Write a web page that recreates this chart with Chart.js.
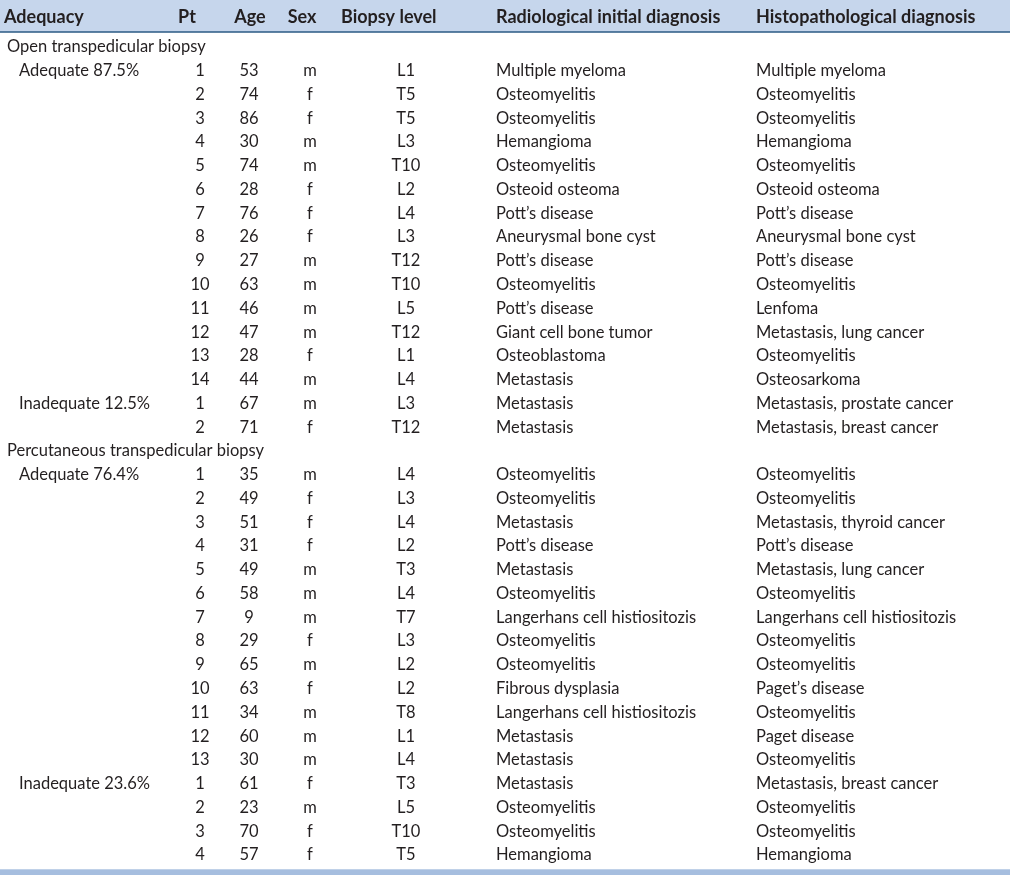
<!DOCTYPE html>
<html>
<head>
<meta charset="utf-8">
<title>Transpedicular biopsy table</title>
<script src="https://cdn.jsdelivr.net/npm/chart.js@4.4.0/dist/chart.umd.min.js"></script>
<style>
  html, body { margin: 0; padding: 0; background: #fff; }
  #wrap { width: 1010px; height: 875px; }
</style>
</head>
<body>
<div id="wrap"><canvas id="tableCanvas" width="1010" height="875"></canvas></div>
<script>
// --- data ---
const headers = ['Adequacy', 'Pt', 'Age', 'Sex', 'Biopsy level', 'Radiological initial diagnosis', 'Histopathological diagnosis'];
const groupNames = ['Open transpedicular biopsy', 'Percutaneous transpedicular biopsy'];
const subgroupNames = [['Adequate 87.5%', 'Inadequate 12.5%'], ['Adequate 76.4%', 'Inadequate 23.6%']];
const subgroupCounts = [[14, 2], [13, 4]];

const pt = [1, 2, 3, 4, 5, 6, 7, 8, 9, 10, 11, 12, 13, 14, 1, 2,
  1, 2, 3, 4, 5, 6, 7, 8, 9, 10, 11, 12, 13, 1, 2, 3, 4];
const age = [53, 74, 86, 30, 74, 28, 76, 26, 27, 63, 46, 47, 28, 44, 67, 71,
  35, 49, 51, 31, 49, 58, 9, 29, 65, 63, 34, 60, 30, 61, 23, 70, 57];
const sex = ['m', 'f', 'f', 'm', 'm', 'f', 'f', 'f', 'm', 'm', 'm', 'm', 'f', 'm', 'm', 'f',
  'm', 'f', 'f', 'f', 'm', 'm', 'm', 'f', 'm', 'f', 'm', 'm', 'm', 'f', 'm', 'f', 'f'];
const level = ['L1', 'T5', 'T5', 'L3', 'T10', 'L2', 'L4', 'L3', 'T12', 'T10', 'L5', 'T12', 'L1', 'L4', 'L3', 'T12',
  'L4', 'L3', 'L4', 'L2', 'T3', 'L4', 'T7', 'L3', 'L2', 'L2', 'T8', 'L1', 'L4', 'T3', 'L5', 'T10', 'T5'];
const radiological = ['Multiple myeloma', 'Osteomyelitis', 'Osteomyelitis', 'Hemangioma', 'Osteomyelitis',
  'Osteoid osteoma', 'Pott’s disease', 'Aneurysmal bone cyst', 'Pott’s disease', 'Osteomyelitis',
  'Pott’s disease', 'Giant cell bone tumor', 'Osteoblastoma', 'Metastasis', 'Metastasis', 'Metastasis',
  'Osteomyelitis', 'Osteomyelitis', 'Metastasis', 'Pott’s disease', 'Metastasis', 'Osteomyelitis',
  'Langerhans cell histiositozis', 'Osteomyelitis', 'Osteomyelitis', 'Fibrous dysplasia',
  'Langerhans cell histiositozis', 'Metastasis', 'Metastasis', 'Metastasis', 'Osteomyelitis',
  'Osteomyelitis', 'Hemangioma'];
const histopathological = ['Multiple myeloma', 'Osteomyelitis', 'Osteomyelitis', 'Hemangioma', 'Osteomyelitis',
  'Osteoid osteoma', 'Pott’s disease', 'Aneurysmal bone cyst', 'Pott’s disease', 'Osteomyelitis',
  'Lenfoma', 'Metastasis, lung cancer', 'Osteomyelitis', 'Osteosarkoma', 'Metastasis, prostate cancer',
  'Metastasis, breast cancer', 'Osteomyelitis', 'Osteomyelitis', 'Metastasis, thyroid cancer',
  'Pott’s disease', 'Metastasis, lung cancer', 'Osteomyelitis', 'Langerhans cell histiositozis',
  'Osteomyelitis', 'Osteomyelitis', 'Paget’s disease', 'Osteomyelitis', 'Paget disease', 'Osteomyelitis',
  'Metastasis, breast cancer', 'Osteomyelitis', 'Osteomyelitis', 'Hemangioma'];

// build the row list: each line of the table gets a row index on the y scale
const lines = [];
let p = 0;
groupNames.forEach((g, gi) => {
  lines.push({ type: 'group', text: g });
  subgroupNames[gi].forEach((s, si) => {
    for (let k = 0; k < subgroupCounts[gi][si]; k++) {
      lines.push({ type: 'row', sub: k === 0 ? s : '', i: p });
      p++;
    }
  });
});

// column anchors on the x scale (pixels of a 1010 wide table)
const cols = {
  group: { x: 7, align: 'left' },
  sub: { x: 19, align: 'left' },
  pt: { x: 200, align: 'center' },
  age: { x: 249, align: 'center' },
  sex: { x: 310, align: 'center' },
  level: { x: 406, align: 'center' },
  rad: { x: 496, align: 'left' },
  his: { x: 756, align: 'left' },
};
const headerCols = [
  { x: 4, align: 'left' }, { x: 187, align: 'center' }, { x: 250, align: 'center' },
  { x: 302, align: 'center' }, { x: 341, align: 'left' }, { x: 496, align: 'left' }, { x: 756, align: 'left' },
];

const FONT = 'Lato, "Open Sans", sans-serif';
const TEXT = '#231f20';

const tablePlugin = {
  id: 'tableText',
  afterDraw(chart) {
    const { ctx, scales: { x, y } } = chart;
    ctx.save();
    // header band
    const hTop = y.getPixelForValue(y.min);
    const hBot = y.getPixelForValue(-0.63);
    ctx.fillStyle = '#c6d6ec';
    ctx.fillRect(x.getPixelForValue(0), hTop, x.getPixelForValue(1010) - x.getPixelForValue(0), hBot - hTop);
    ctx.strokeStyle = '#2b5a84';
    ctx.lineWidth = 1.5;
    ctx.beginPath();
    ctx.moveTo(x.getPixelForValue(0), hBot);
    ctx.lineTo(x.getPixelForValue(1010), hBot);
    ctx.stroke();
    // bottom band
    const bTop = y.getPixelForValue(34.6);
    ctx.fillStyle = '#a6bedf';
    ctx.fillRect(x.getPixelForValue(0), bTop, x.getPixelForValue(1010) - x.getPixelForValue(0), y.getPixelForValue(y.max) - bTop);

    ctx.textBaseline = 'middle';
    ctx.fillStyle = TEXT;
    ctx.font = 'bold 18px ' + FONT;
    const hy = y.getPixelForValue(-1.27);
    headers.forEach((h, i) => {
      ctx.textAlign = headerCols[i].align;
      ctx.fillText(h, x.getPixelForValue(headerCols[i].x), hy);
    });

    ctx.font = '16.5px ' + FONT;
    const put = (txt, col, row) => {
      ctx.textAlign = col.align;
      ctx.fillText(String(txt), x.getPixelForValue(col.x), y.getPixelForValue(row));
    };
    lines.forEach((ln, r) => {
      if (ln.type === 'group') { put(ln.text, cols.group, r); return; }
      if (ln.sub) put(ln.sub, cols.sub, r);
      put(pt[ln.i], cols.pt, r);
      put(age[ln.i], cols.age, r);
      put(sex[ln.i], cols.sex, r);
      put(level[ln.i], cols.level, r);
      put(radiological[ln.i], cols.rad, r);
      put(histopathological[ln.i], cols.his, r);
    });
    ctx.restore();
  },
};

new Chart(document.getElementById('tableCanvas').getContext('2d'), {
  type: 'scatter',
  data: { datasets: [{ data: [], pointRadius: 0 }] },
  options: {
    responsive: false,
    animation: false,
    layout: { padding: 0 },
    plugins: { legend: { display: false }, tooltip: { enabled: false } },
    scales: {
      x: { type: 'linear', display: false, min: 0, max: 1010 },
      y: { type: 'linear', display: false, reverse: true, min: -1.978, max: 34.84 },
    },
  },
  plugins: [tablePlugin],
});
</script>
</body>
</html>
